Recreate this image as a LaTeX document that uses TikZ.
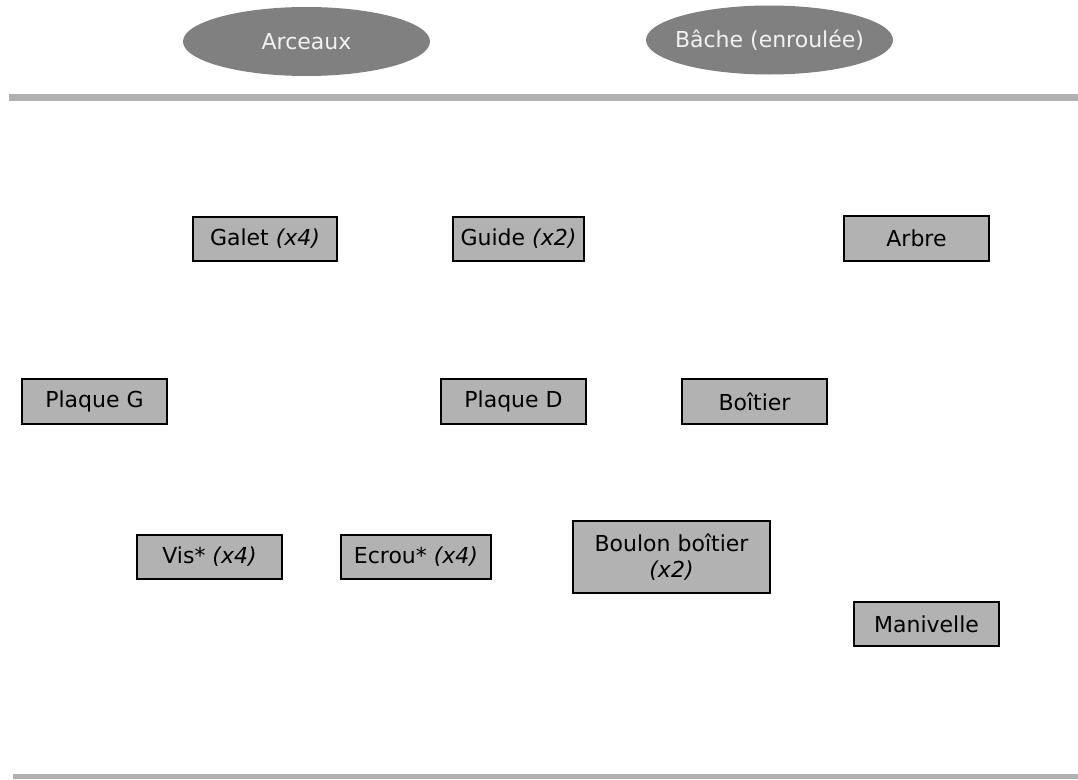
\documentclass[tikz,border=0pt]{standalone}
\usepackage{fontspec}
\setmainfont{DejaVu Sans}
\usetikzlibrary{shapes.geometric}
\definecolor{mygray}{RGB}{178,178,178}
\definecolor{mydark}{RGB}{128,128,128}
\definecolor{mybar}{RGB}{176,176,176}
\tikzset{
  part/.style={draw=black, line width=1.4pt, fill=mygray, text=black,
    minimum width=145pt, minimum height=44pt, inner sep=0pt,
    font=\fontsize{22}{26}\selectfont},
  group/.style={ellipse, fill=mydark, text=white!95!black,
    minimum width=247pt, minimum height=69pt, inner xsep=-14pt, inner ysep=0pt,
    font=\fontsize{22}{26}\selectfont},
}

\begin{document}
\begin{tikzpicture}[x=1pt,y=-1pt]
\useasboundingbox (0,0) rectangle (1078,779);

% sub-assemblies
\node[group] (arceaux) at (306.5,41.5) {Arceaux};
\node[group] (bache) at (769.5,40) {Bâche (enroulée)};

% separators
\fill[mybar] (9,94) rectangle (1078,101);
\fill[mybar] (13,774) rectangle (1078,779);

% parts
\node[part, minimum width=144pt] (galet) at (265,239) {Galet \textit{(x4)}};
\node[part, minimum width=131pt] (guide) at (518.5,239) {Guide \textit{(x2)}};
\node[part, minimum height=45pt] (arbre) at (916.5,238.5) {Arbre};

\node[part, minimum height=45pt] (plaqueG) at (94.5,401.5) {Plaque G};
\node[part, minimum height=45pt] (plaqueD) at (513.5,401.5) {Plaque D};
\node[part, minimum height=45pt] (boitier) at (754.5,401.5) {Boîtier};

\node[part] (vis) at (209.5,557) {Vis* \textit{(x4)}};
\node[part, minimum width=150pt] (ecrou) at (416,557) {Ecrou* \textit{(x4)}};
\node[part, minimum width=197pt, minimum height=72pt, align=center] (boulon) at (671.5,557)
  {Boulon boîtier\\ \textit{(x2)}};
\node[part] (manivelle) at (926.5,624) {Manivelle};
\end{tikzpicture}
\end{document}
